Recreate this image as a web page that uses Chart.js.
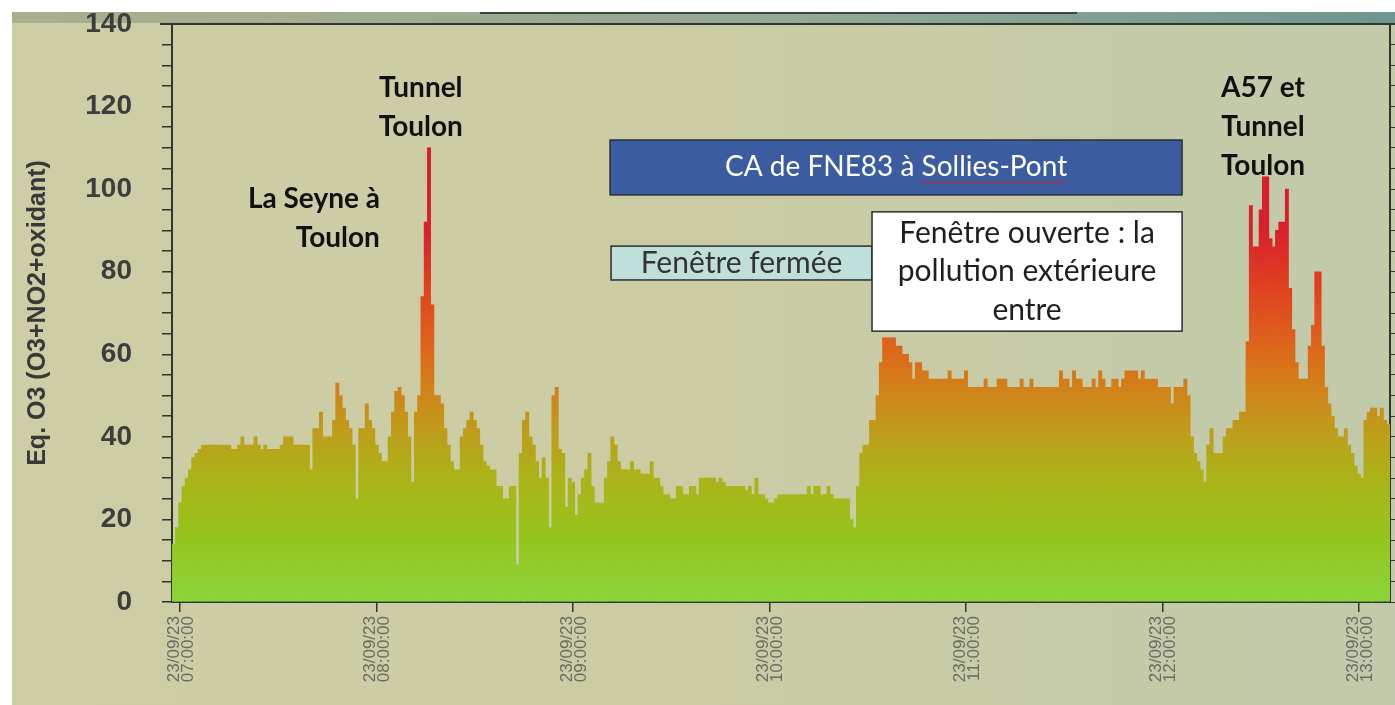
<!DOCTYPE html>
<html>
<head>
<meta charset="utf-8">
<script src="https://cdn.jsdelivr.net/npm/chart.js@4.4.1/dist/chart.umd.min.js"></script>
<style>
  html, body { margin: 0; padding: 0; background: #fff; }
  #wrap { width: 1395px; height: 705px; }
</style>
</head>
<body>
<div id="wrap"><canvas id="myChart" width="1395" height="705"></canvas></div>
<script>
// one value per minute, 23/09/23 from 06:58 to 13:09
const dateLabel = '23/09/23';
const startMinute = 6 * 60 + 58;

const m0658 = [14, 18];
const h07 = [24, 28, 30, 32, 35, 36, 37, 38,
  38, 38, 38, 38, 38, 38, 38, 38, 37, 37,
  38, 40, 38, 38, 38, 40, 38, 37, 38, 37,
  37, 37, 37, 38, 40, 40, 40, 38, 38, 38,
  38, 38, 32, 42, 42, 46, 40, 40, 40, 44,
  53, 50, 47, 44, 42, 38, 25, 42, 42, 48,
  44, 42];
const h08 = [38, 36, 34, 34, 40, 46, 51, 52,
  50, 46, 40, 29, 46, 50, 74, 92, 110, 72,
  50, 50, 48, 42, 38, 34, 32, 32, 40, 42,
  44, 46, 44, 42, 38, 34, 33, 32, 32, 28,
  28, 25, 25, 28, 28, 9, 36, 44, 46, 40,
  38, 34, 30, 35, 30, 18, 50, 52, 37, 36,
  23, 30];
const h09 = [29, 21, 26, 30, 32, 36, 28, 24,
  24, 24, 30, 34, 40, 38, 34, 32, 32, 32,
  34, 32, 32, 31, 31, 31, 34, 30, 30, 28,
  26, 26, 25, 25, 28, 28, 26, 26, 28, 28,
  26, 30, 30, 30, 30, 30, 29, 30, 29, 28,
  28, 28, 28, 28, 28, 27, 28, 26, 30, 26,
  26, 25];
const h10 = [24, 24, 25, 26, 26, 26, 26, 26,
  26, 26, 26, 26, 28, 26, 28, 28, 26, 26,
  28, 26, 25, 25, 25, 25, 25, 20, 18, 28,
  36, 38, 38, 44, 44, 50, 58, 64, 64, 64,
  64, 62, 62, 60, 60, 58, 54, 58, 58, 56,
  56, 54, 54, 54, 54, 54, 54, 56, 54, 54,
  54, 54];
const h11 = [56, 52, 52, 52, 52, 52, 54, 52,
  52, 52, 54, 54, 54, 52, 52, 52, 52, 54,
  52, 52, 54, 52, 52, 52, 52, 52, 52, 52,
  52, 56, 54, 54, 52, 56, 54, 54, 52, 52,
  52, 54, 52, 56, 54, 52, 52, 54, 54, 52,
  54, 56, 56, 56, 56, 54, 56, 54, 54, 54,
  54, 52];
const h12 = [52, 52, 52, 48, 52, 52, 52, 54,
  50, 40, 36, 34, 32, 29, 38, 42, 36, 36,
  36, 40, 42, 42, 44, 44, 46, 46, 63, 96,
  86, 86, 95, 103, 103, 88, 86, 90, 92, 92,
  100, 76, 66, 58, 54, 54, 54, 62, 67, 80,
  80, 62, 52, 48, 45, 42, 40, 40, 42, 38,
  36, 33];
const h13 = [31, 30, 44, 46, 47, 47, 45, 47, 44, 43];

const values = [].concat(m0658, h07, h08, h09, h10, h11, h12, h13);

function pad(n) { return (n < 10 ? '0' : '') + n; }
const labels = values.map(function(v, i) {
  const t = startMinute + i;
  return pad(Math.floor(t / 60)) + ':' + pad(t % 60) + ':00';
});

// colour ramp of the bars, by value
const rampValues = [0, 15, 30, 40, 50, 60, 75, 90, 140];
const rampColors = ['#8cd53a', '#95c51e', '#abb318', '#bca01a', '#cf861a', '#dc6a1a', '#e04420', '#d9202c', '#d01a30'];

const AXIS = '#2b372f';

let barGradient = null, gradKey = '';
function barColor(ctx) {
  const chart = ctx.chart;
  const area = chart.chartArea;
  if (!area) return rampColors[3];
  const ys = chart.scales.y;
  const key = area.top + ':' + area.bottom;
  if (!barGradient || gradKey !== key) {
    const y0 = ys.getPixelForValue(0), y1 = ys.getPixelForValue(140);
    barGradient = chart.ctx.createLinearGradient(0, y0, 0, y1);
    rampValues.forEach(function(v, i) { barGradient.addColorStop(v / 140, rampColors[i]); });
    gradKey = key;
  }
  return barGradient;
}

const backdrop = {
  id: 'backdrop',
  beforeDraw(chart) {
    const c = chart.ctx, W = chart.width, H = chart.height;
    c.save();
    c.fillStyle = '#fff';
    c.fillRect(0, 0, W, H);
    const g = c.createLinearGradient(12, 0, W, 0);
    g.addColorStop(0, '#cdcda6');
    g.addColorStop(0.5, '#cbcca4');
    g.addColorStop(1, '#c1caaa');
    c.fillStyle = g;
    c.fillRect(12, 12, W - 12, H - 12);
    const b = c.createLinearGradient(12, 0, W, 0);
    b.addColorStop(0, '#a9ae8e');
    b.addColorStop(0.6, '#92a896');
    b.addColorStop(1, '#6f9590');
    c.fillStyle = b;
    c.fillRect(12, 12, W - 12, 11);
    c.strokeStyle = '#3a4540';
    c.lineWidth = 2;
    c.beginPath();
    c.moveTo(480, 13);
    c.lineTo(1077, 13);
    c.stroke();
    c.restore();
  },
  afterDraw(chart) {
    const c = chart.ctx, a = chart.chartArea;
    c.save();
    c.strokeStyle = AXIS;
    c.lineWidth = 2;
    c.beginPath();
    c.moveTo(160, a.top);
    c.lineTo(chart.width, a.top);
    c.stroke();
    c.restore();
  }
};

// texts laid on the chart, anchored with x = bar index, y = value
const labelNotes = [
  { lines: ['Tunnel', 'Toulon'], x: 75.5, y: 124.5, align: 'center' },
  { lines: ['La Seyne à', 'Toulon'], x: 63, y: 97.6, align: 'right' },
  { lines: ['A57 et', 'Tunnel', 'Toulon'], x: 332.7, y: 124.5, align: 'center' }
];
const boxNotes = [
  { lines: ['CA de FNE83 à Sollies-Pont'], x0: 133.3, x1: 308, y0: 111.9, y1: 98.6, fill: '#3c5ca2', text: '#ffffff', size: 28, wavy: 'Sollies-Pont' },
  { lines: ['Fenêtre fermée'], x0: 133.6, x1: 213.3, y0: 86.2, y1: 78.0, fill: '#bfe0da', text: '#333333', size: 30 },
  { lines: ['Fenêtre ouverte : la', 'pollution extérieure', 'entre'], x0: 213.3, x1: 308, y0: 94.5, y1: 65.6, fill: '#ffffff', text: '#1e1e1e', size: 30 }
];

const notes = {
  id: 'notes',
  afterDatasetsDraw(chart) {
    const c = chart.ctx, xs = chart.scales.x, ys = chart.scales.y;
    c.save();
    c.textBaseline = 'middle';
    c.font = 'bold 28px Lato';
    c.fillStyle = '#111';
    labelNotes.forEach(function(n) {
      c.textAlign = n.align;
      const x = xs.getPixelForValue(n.x), y = ys.getPixelForValue(n.y);
      n.lines.forEach(function(t, i) { c.fillText(t, x, y + i * 39); });
    });
    boxNotes.forEach(function(n) {
      const l = xs.getPixelForValue(n.x0), r = xs.getPixelForValue(n.x1);
      const t = ys.getPixelForValue(n.y0), b = ys.getPixelForValue(n.y1);
      c.fillStyle = n.fill;
      c.fillRect(l, t, r - l, b - t);
      c.strokeStyle = '#2a2f35';
      c.lineWidth = 1.5;
      c.strokeRect(l, t, r - l, b - t);
      c.font = n.size + 'px Lato';
      c.textAlign = 'center';
      c.fillStyle = n.text;
      const cx = (l + r) / 2, step = 38.5;
      const top = (t + b) / 2 - (n.lines.length - 1) * step / 2;
      n.lines.forEach(function(s, i) { c.fillText(s, cx, top + i * step); });
      if (n.wavy) {
        const full = n.lines[0];
        const wFull = c.measureText(full).width;
        const wWord = c.measureText(n.wavy).width;
        const x1 = cx + wFull / 2, x0 = x1 - wWord;
        const yy = top + 15;
        c.strokeStyle = '#d02020';
        c.lineWidth = 1;
        c.beginPath();
        for (let x = x0, k = 0; x <= x1; x += 2, k++) {
          const py = yy + (k % 2 ? 1.5 : -1);
          if (k === 0) c.moveTo(x, py); else c.lineTo(x, py);
        }
        c.stroke();
      }
    });
    c.restore();
  }
};

const data = {
  labels: labels,
  datasets: [{
    data: values,
    backgroundColor: barColor,
    borderWidth: 0,
    barPercentage: 1,
    categoryPercentage: 1,
    yAxisID: 'y'
  }]
};

const config = {
  type: 'bar',
  data: data,
  options: {
    responsive: false,
    animation: false,
    layout: { padding: { left: 12, top: 24, right: 0, bottom: 0 } },
    plugins: {
      legend: { display: false },
      tooltip: { enabled: false }
    },
    scales: {
      x: {
        ticks: {
          autoSkip: false,
          minRotation: 90,
          maxRotation: 90,
          labelOffset: -6,
          color: '#6a6a66',
          padding: 4,
          font: { family: 'Liberation Sans', size: 17, lineHeight: 0.82 },
          callback: function(value) {
            const l = this.getLabelForValue(value);
            return l.slice(3) === '00:00' ? [dateLabel, l] : null;
          }
        },
        grid: { offset: false, drawOnChartArea: false, tickLength: 10, color: AXIS, lineWidth: 1.5 },
        border: { color: AXIS, width: 2 },
        afterFit: function(s) { s.height = 103; s.paddingLeft = 0; s.paddingRight = 0; }
      },
      y: {
        min: 0,
        max: 140,
        ticks: {
          stepSize: 5,
          autoSkip: false,
          color: '#3d3d3d',
          padding: 30,
          font: { family: 'Liberation Sans', size: 28, weight: 'bold' },
          callback: function(v) { return v % 20 === 0 ? v : ''; }
        },
        grid: { drawOnChartArea: false, tickLength: 10, color: AXIS, lineWidth: 1.5 },
        border: { color: AXIS, width: 2 },
        title: {
          display: true,
          text: 'Eq. O3 (O3+NO2+oxidant)',
          color: '#383838',
          font: { family: 'Liberation Sans', size: 25, weight: 'bold' },
          padding: { top: 11 }
        },
        afterFit: function(s) { s.width = 160; s.paddingTop = 0; s.paddingBottom = 0; }
      },
      y1: {
        position: 'right',
        min: 0,
        max: 140,
        ticks: { stepSize: 5, autoSkip: false, padding: 0, callback: function() { return ''; } },
        grid: { drawOnChartArea: false, tickLength: 5, color: AXIS },
        border: { color: AXIS, width: 2 },
        afterFit: function(s) { s.width = 5; s.paddingTop = 0; s.paddingBottom = 0; }
      }
    }
  },
  plugins: [backdrop, notes]
};

const myChart = new Chart(document.getElementById('myChart').getContext('2d'), config);
</script>
</body>
</html>
